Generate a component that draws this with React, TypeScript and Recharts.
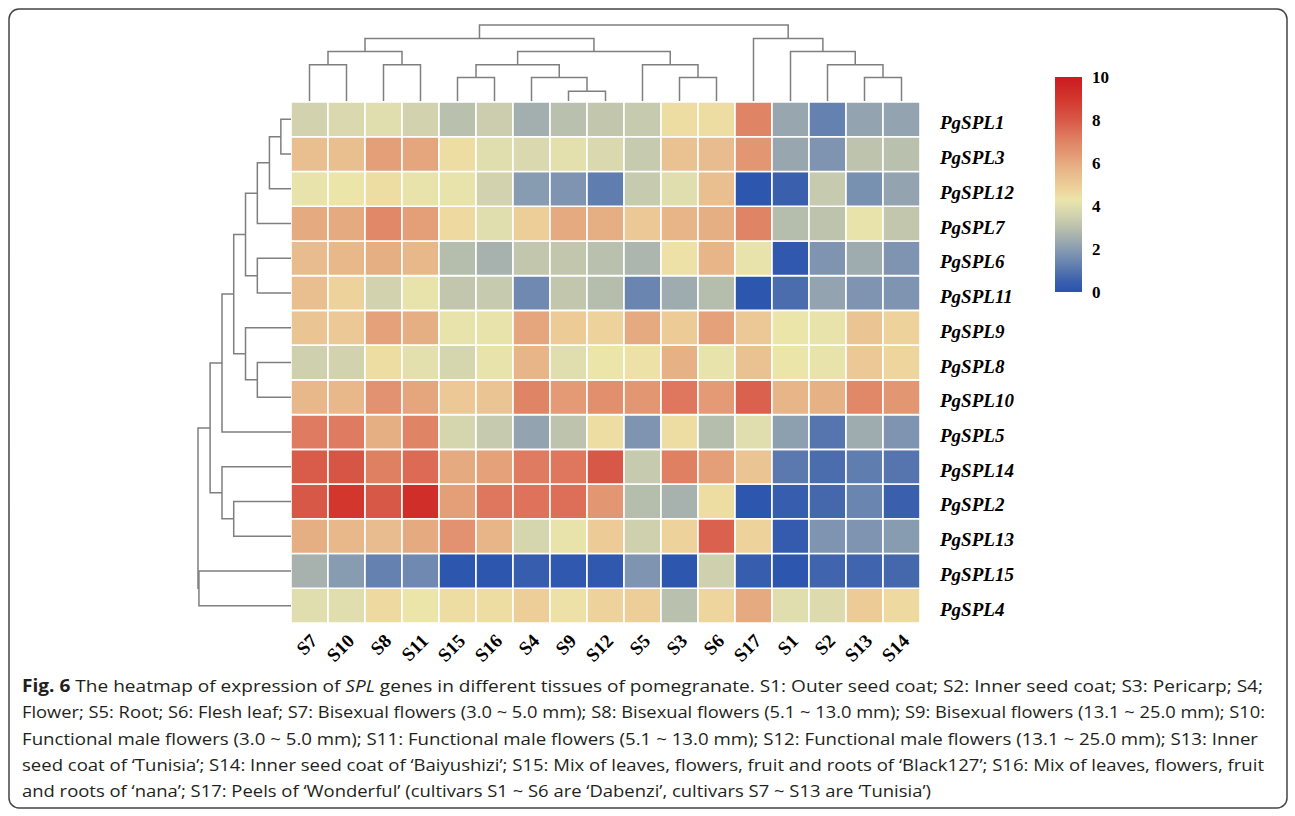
import React from 'react';
import { BarChart, Bar, Cell, XAxis, YAxis, ScatterChart, Scatter } from 'recharts';

const samples = ['S7', 'S10', 'S8', 'S11', 'S15', 'S16', 'S4', 'S9', 'S12', 'S5', 'S3', 'S6', 'S17', 'S1', 'S2', 'S13', 'S14'];
const genes = ['PgSPL1', 'PgSPL3', 'PgSPL12', 'PgSPL7', 'PgSPL6', 'PgSPL11', 'PgSPL9', 'PgSPL8', 'PgSPL10', 'PgSPL5', 'PgSPL14', 'PgSPL2', 'PgSPL13', 'PgSPL15', 'PgSPL4'];

// expression values (0-10), one array per gene, in sample order above
const pgSPL1 = [3.6, 3.8, 4.0, 3.6, 3.0, 3.4, 2.5, 3.0, 3.2, 3.3, 4.5, 4.5, 7.0, 2.3, 1.3, 2.2, 2.2];
const pgSPL3 = [5.4, 5.4, 6.3, 6.1, 4.5, 4.0, 3.8, 4.1, 3.8, 3.3, 5.3, 5.5, 6.5, 2.3, 1.8, 3.1, 3.0];
const pgSPL12 = [4.2, 4.3, 4.5, 4.2, 4.2, 3.6, 2.0, 1.8, 1.2, 3.3, 4.0, 5.4, 0.1, 0.5, 3.3, 1.7, 2.2];
const pgSPL7 = [6.0, 6.0, 6.9, 6.3, 4.6, 4.0, 4.9, 6.0, 5.9, 5.1, 5.7, 5.9, 7.0, 2.9, 3.1, 4.2, 3.2];
const pgSPL6 = [5.5, 5.6, 5.9, 5.6, 2.9, 2.6, 3.2, 3.2, 3.0, 2.7, 4.4, 5.7, 4.2, 0.2, 1.8, 2.4, 1.8];
const pgSPL11 = [5.4, 4.8, 3.6, 4.2, 3.2, 3.3, 1.5, 3.2, 2.9, 1.4, 2.4, 2.9, 0.1, 0.8, 2.2, 1.8, 1.8];
const pgSPL9 = [5.2, 5.1, 6.2, 5.9, 4.2, 4.2, 6.1, 5.0, 4.8, 6.0, 5.0, 6.2, 5.1, 4.3, 4.2, 5.2, 4.8];
const pgSPL8 = [3.5, 3.6, 4.5, 4.1, 3.7, 4.2, 5.7, 4.0, 4.3, 4.4, 5.8, 4.2, 5.3, 4.3, 4.2, 5.1, 4.7];
const pgSPL10 = [5.6, 5.6, 6.6, 6.1, 5.1, 5.2, 7.0, 6.4, 6.7, 6.5, 7.3, 6.4, 7.8, 5.7, 5.8, 6.9, 6.5];
const pgSPL5 = [7.2, 7.2, 5.9, 7.0, 3.7, 3.3, 2.2, 3.1, 4.5, 1.8, 4.5, 2.9, 4.0, 2.1, 1.0, 2.4, 1.8];
const pgSPL14 = [7.9, 8.1, 7.1, 7.6, 6.0, 6.2, 7.2, 7.3, 8.0, 3.3, 7.1, 6.3, 5.2, 1.1, 0.8, 1.2, 1.0];
const pgSPL2 = [8.0, 9.0, 8.0, 9.3, 6.3, 7.3, 7.4, 7.5, 6.5, 2.9, 2.6, 4.5, 0.1, 0.4, 0.7, 1.4, 0.5];
const pgSPL13 = [5.9, 5.6, 5.5, 6.0, 6.6, 5.7, 3.7, 4.2, 5.0, 3.5, 4.8, 7.8, 4.8, 0.3, 1.8, 1.8, 2.0];
const pgSPL15 = [2.6, 2.0, 1.3, 1.5, 0.1, 0.1, 0.4, 0.2, 0.2, 1.8, 0.1, 3.5, 0.4, 0.1, 0.6, 0.6, 0.7];
const pgSPL4 = [4.0, 4.0, 4.6, 4.3, 4.5, 4.5, 4.9, 4.4, 4.8, 4.9, 3.0, 4.7, 6.0, 4.0, 3.9, 5.0, 4.6];
const expression = [pgSPL1, pgSPL3, pgSPL12, pgSPL7, pgSPL6, pgSPL11, pgSPL9, pgSPL8, pgSPL10, pgSPL5, pgSPL14, pgSPL2, pgSPL13, pgSPL15, pgSPL4];

const colorbarTicks = [0, 2, 4, 6, 8, 10];

// dendrogram merges: [childA, childB, height]; leaves are 0..n-1, merges numbered n, n+1, ...
const sampleMerges: [number, number, number][] = [
  [7, 8, 1.28], [0, 1, 4.76], [2, 3, 4.76], [4, 5, 3.08], [6, 17, 3.08], [10, 11, 3.08], [15, 16, 3.08],
  [20, 21, 4.76], [9, 22, 4.76], [14, 23, 4.76], [18, 19, 6.51], [24, 25, 6.51], [13, 26, 6.51],
  [27, 28, 8.23], [12, 29, 8.23], [30, 31, 10],
];
const geneMerges: [number, number, number][] = [
  [0, 1, 1.09], [15, 2, 2.32], [16, 3, 3.62], [4, 5, 3.62], [17, 18, 4.89], [7, 8, 3.62], [6, 20, 4.89],
  [19, 21, 6.16], [22, 9, 7.42], [11, 12, 6.16], [10, 24, 7.42], [23, 25, 8.7], [13, 14, 9.9], [26, 27, 10],
];

const captionLines = [
  'The heatmap of expression of ',
  'Flower; S5: Root; S6: Flesh leaf; S7: Bisexual flowers (3.0 ~ 5.0 mm); S8: Bisexual flowers (5.1 ~ 13.0 mm); S9: Bisexual flowers (13.1 ~ 25.0 mm); S10:',
  'Functional male flowers (3.0 ~ 5.0 mm); S11: Functional male flowers (5.1 ~ 13.0 mm); S12: Functional male flowers (13.1 ~ 25.0 mm); S13: Inner',
  'seed coat of \u2018Tunisia\u2019; S14: Inner seed coat of \u2018Baiyushizi\u2019; S15: Mix of leaves, flowers, fruit and roots of \u2018Black127\u2019; S16: Mix of leaves, flowers, fruit',
  'and roots of \u2018nana\u2019; S17: Peels of \u2018Wonderful\u2019 (cultivars S1 ~ S6 are \u2018Dabenzi\u2019, cultivars S7 ~ S13 are \u2018Tunisia\u2019)',
];

const colorStops: [number, string][] = [
  [0, '#2a53b0'], [0.5, '#3a60ad'], [1, '#5675ae'], [1.5, '#6f89b0'], [2, '#889cb1'], [2.5, '#a3afae'],
  [3, '#b9c0ad'], [3.5, '#cfd0ae'], [4, '#e0deae'], [4.3, '#ece5aa'], [4.6, '#eed9a0'], [5, '#eccb97'],
  [5.5, '#e8bc8e'], [6, '#e6aa80'], [6.5, '#e39672'], [7, '#e08466'], [7.5, '#dd6e58'], [8, '#d85848'],
  [9, '#d2362d'], [10, '#cc1a20'],
];

function hexToRgb(h: string) {
  return [parseInt(h.slice(1, 3), 16), parseInt(h.slice(3, 5), 16), parseInt(h.slice(5, 7), 16)];
}
function colorFor(v: number) {
  if (v <= colorStops[0][0]) return colorStops[0][1];
  for (let i = 1; i < colorStops.length; i++) {
    const [v1, c1] = colorStops[i];
    if (v <= v1) {
      const [v0, c0] = colorStops[i - 1];
      const t = (v - v0) / (v1 - v0);
      const a = hexToRgb(c0), b = hexToRgb(c1);
      const m = a.map((x, k) => Math.round(x + (b[k] - x) * t));
      return `rgb(${m[0]},${m[1]},${m[2]})`;
    }
  }
  return colorStops[colorStops.length - 1][1];
}

function dendroLinks(n: number, merges: [number, number, number][]) {
  const pos: number[] = Array.from({ length: n }, (_, i) => i + 0.5);
  const hgt: number[] = Array.from({ length: n }, () => 0);
  const links: { p: number; h: number }[][] = [];
  merges.forEach(([a, b, h]) => {
    links.push([
      { p: pos[a], h: hgt[a] },
      { p: pos[a], h },
      { p: pos[b], h },
      { p: pos[b], h: hgt[b] },
    ]);
    pos.push((pos[a] + pos[b]) / 2);
    hgt.push(h);
  });
  return links;
}

const heatData = samples.map((s) => {
  const row: Record<string, any> = { sample: s };
  genes.forEach((g) => { row[g] = 1; });
  return row;
});

const serif = '"Liberation Serif", "Times New Roman", serif';
const lineColor = '#7f7f7f';
const noShape = () => <g />;

const SampleTick = (props: any) => {
  const { x, y, payload } = props;
  const ax = x + 9;
  const ay = y + 19;
  return (
    <text x={ax} y={ay} textAnchor="end" transform={`rotate(-45 ${ax} ${ay})`} fontFamily={serif} fontWeight="bold" fontSize={19} fill="#000">
      {payload.value}
    </text>
  );
};

const GeneTick = (props: any) => {
  const { x, y, payload } = props;
  const idx = Math.round(genes.length - 0.5 - payload.value);
  return (
    <text x={x + 20} y={y} dy={10} textAnchor="start" fontFamily={serif} fontStyle="italic" fontWeight="bold" fontSize={19} fill="#000">
      {genes[idx]}
    </text>
  );
};

const BarTick = (props: any) => {
  const { x, y, payload } = props;
  return (
    <text x={x + 10} y={y} dy={6} textAnchor="start" fontFamily={serif} fontWeight="bold" fontSize={17} fill="#000">
      {payload.value}
    </text>
  );
};

export default function App() {
  const sampleLinks = dendroLinks(samples.length, sampleMerges);
  const geneLinks = dendroLinks(genes.length, geneMerges);
  const geneTicks = genes.map((_, i) => genes.length - 0.5 - i);
  const bottomFirst = genes.map((g, i) => ({ g, i })).reverse();

  return (
    <div style={{ position: 'absolute', left: 0, top: 0, width: 1295, height: 816, background: '#fff' }}>
      <svg width={1295} height={816} style={{ position: 'absolute', left: 0, top: 0 }}>
        <rect x={9} y={9} width={1278} height={799} rx={10} ry={10} fill="none" stroke="#444" strokeWidth={1.5} />
        <g fontFamily='"Open Sans", "Noto Sans", sans-serif' fontSize={17} fill="#231f20">
          <text x={22} y={692} textLength={1241} lengthAdjust="spacingAndGlyphs">
            <tspan fontWeight="bold">Fig. 6</tspan> {captionLines[0]}<tspan fontStyle="italic">SPL</tspan> genes in different tissues of pomegranate. S1: Outer seed coat; S2: Inner seed coat; S3: Pericarp; S4;
          </text>
          <text x={22} y={718} textLength={1243} lengthAdjust="spacingAndGlyphs">{captionLines[1]}</text>
          <text x={22} y={745} textLength={1236} lengthAdjust="spacingAndGlyphs">{captionLines[2]}</text>
          <text x={22} y={771} textLength={1242} lengthAdjust="spacingAndGlyphs">{captionLines[3]}</text>
          <text x={22} y={797} textLength={909} lengthAdjust="spacingAndGlyphs">{captionLines[4]}</text>
        </g>
      </svg>

      {/* column dendrogram */}
      <div style={{ position: 'absolute', left: 291, top: 24 }}>
        <ScatterChart width={629} height={78} margin={{ top: 1, right: 0, bottom: 1, left: 0 }}>
          <XAxis type="number" dataKey="p" domain={[0, samples.length]} hide />
          <YAxis type="number" dataKey="h" domain={[0, 10]} hide />
          {sampleLinks.map((d, i) => (
            <Scatter key={i} data={d} line={{ stroke: lineColor, strokeWidth: 1.5 }} lineType="joint" shape={noShape} isAnimationActive={false} />
          ))}
        </ScatterChart>
      </div>

      {/* row dendrogram */}
      <div style={{ position: 'absolute', left: 197, top: 101 }}>
        <ScatterChart width={94} height={523} margin={{ top: 1, right: 0, bottom: 1, left: 1 }}>
          <XAxis type="number" dataKey="h" domain={[0, 10]} reversed hide />
          <YAxis type="number" dataKey="p" domain={[0, genes.length]} reversed hide />
          {geneLinks.map((d, i) => (
            <Scatter key={i} data={d} line={{ stroke: lineColor, strokeWidth: 1.5 }} lineType="joint" shape={noShape} isAnimationActive={false} />
          ))}
        </ScatterChart>
      </div>

      {/* heatmap */}
      <div style={{ position: 'absolute', left: 291, top: 102 }}>
        <BarChart width={749} height={581} data={heatData} margin={{ top: 0, right: 0, bottom: 0, left: 0 }} barCategoryGap={0} barGap={0}>
          <XAxis dataKey="sample" type="category" height={60} axisLine={false} tickLine={false} tickSize={0} tickMargin={0} interval={0} tick={<SampleTick />} />
          <YAxis orientation="right" type="number" domain={[0, genes.length]} ticks={geneTicks} width={120} axisLine={false} tickLine={false} tickSize={0} tickMargin={0} tick={<GeneTick />} />
          {bottomFirst.map(({ g, i }) => (
            <Bar key={g} dataKey={g} stackId="heat" stroke="#ffffff" strokeWidth={1.6} isAnimationActive={false}>
              {samples.map((s, si) => (
                <Cell key={s} fill={colorFor(expression[i][si])} />
              ))}
            </Bar>
          ))}
        </BarChart>
      </div>

      {/* colour bar */}
      <div style={{ position: 'absolute', left: 1055, top: 67 }}>
        <BarChart width={67} height={235} data={[{ name: 'scale', v: 10 }]} margin={{ top: 10, right: 0, bottom: 10, left: 0 }} barCategoryGap={0}>
          <defs>
            <linearGradient id="cbGrad" x1="0" y1="0" x2="0" y2="1">
              {[...colorStops].reverse().map(([v, c]) => (
                <stop key={v} offset={`${(1 - v / 10) * 100}%`} stopColor={c} />
              ))}
            </linearGradient>
          </defs>
          <XAxis dataKey="name" hide />
          <YAxis orientation="right" type="number" domain={[0, 10]} ticks={colorbarTicks} width={40} axisLine={false} tickLine={false} tickSize={0} tickMargin={0} tick={<BarTick />} />
          <Bar dataKey="v" fill="url(#cbGrad)" isAnimationActive={false} />
        </BarChart>
      </div>
    </div>
  );
}
